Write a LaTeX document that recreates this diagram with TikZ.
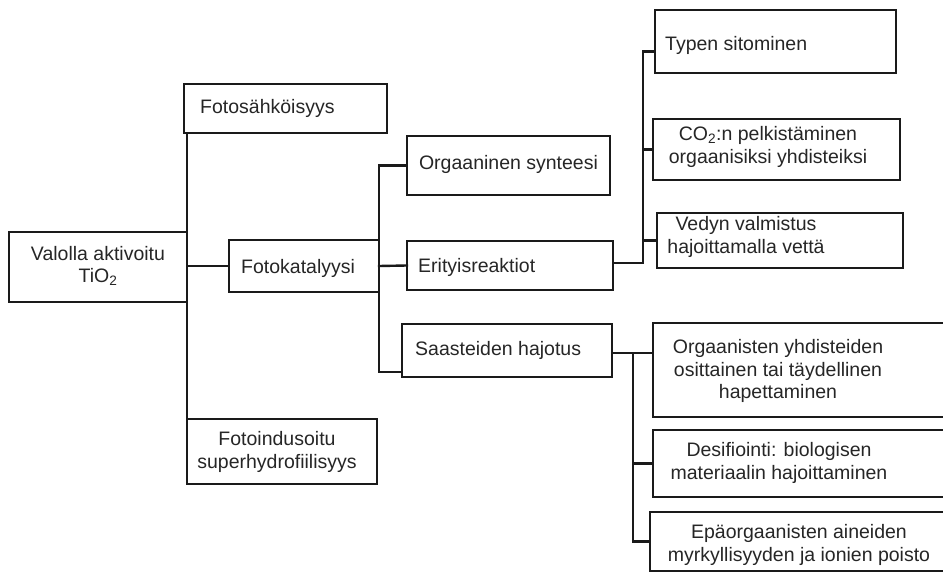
\documentclass[tikz,border=0pt]{standalone}
\usepackage{fontspec}
\setmainfont{Liberation Sans}
\definecolor{ink}{HTML}{1A1A1A}
\definecolor{txtc}{HTML}{262626}
\tikzset{
  box/.style={draw=ink, line width=2.6pt, inner sep=0pt, outer sep=0pt},
  lbl/.style={inner sep=0pt, text=txtc, font=\fontsize{19.5}{22.5}\selectfont, align=center},
  lbll/.style={lbl, anchor=west},
  conn/.style={draw=ink, line width=2.4pt, line cap=rect}
}
\begin{document}
\begin{tikzpicture}[x=1pt,y=-1pt]
\useasboundingbox (0,0) rectangle (943,575);
\clip (0,0) rectangle (943,575);
\fill[white] (0,0) rectangle (943,575);
% boxes
\node[box, minimum width=178pt, minimum height=70pt] (val) at (98,267) {};
\node[box, minimum width=203pt, minimum height=49pt] (fs) at (285.5,108.5) {};
\node[box, minimum width=150pt, minimum height=52pt] (fk) at (304,266) {};
\node[box, minimum width=190pt, minimum height=65pt] (fi) at (282,451.5) {};
\node[box, minimum width=203pt, minimum height=59pt] (org) at (508.5,165.5) {};
\node[box, minimum width=206pt, minimum height=49pt] (eri) at (510,265.5) {};
\node[box, minimum width=210pt, minimum height=53pt] (saa) at (507,350.5) {};
\node[box, minimum width=241pt, minimum height=63pt] (typ) at (775.5,41.5) {};
\node[box, minimum width=247pt, minimum height=61pt] (co2) at (776.5,149.5) {};
\node[box, minimum width=246pt, minimum height=55pt] (ved) at (780,240.5) {};
\node[box, minimum width=312pt, minimum height=94pt] (oy) at (809,370) {};
\node[box, minimum width=312pt, minimum height=67pt] (des) at (809,463.5) {};
\node[box, minimum width=315pt, minimum height=59pt] (epa) at (807.5,541.5) {};
% texts
\node[lbl] (valt) at (98,266) {Valolla aktivoitu\\TiO\textsubscript{2}};
\node[lbll] (fst) at (200,108.5) {Fotosähköisyys};
\node[lbll] (fkt) at (241,268) {Fotokatalyysi};
\node[lbl] (fit) at (277,452) {Fotoindusoitu\\superhydrofiilisyys};
\node[lbl] (orgt) at (508.5,164) {Orgaaninen synteesi};
\node[lbll] (erit) at (418,267) {Erityisreaktiot};
\node[lbll] (saat) at (415,350) {Saasteiden hajotus};
\node[lbll] (typt) at (665,45) {Typen sitominen};
\node[lbl] (co2t) at (768,147) {CO\textsubscript{2}:n pelkistäminen\\orgaanisiksi yhdisteiksi};
\node[lbl] (vedt) at (746,237) {Vedyn valmistus\\hajoittamalla vettä};
\node[lbl] (oyt) at (778,371) {Orgaanisten yhdisteiden\\osittainen tai täydellinen\\hapettaminen};
\node[lbl] (dest) at (779,463) {Desifiointi: biologisen\\materiaalin hajoittaminen};
\node[lbl] (epat) at (799,545) {Epäorgaanisten aineiden\\myrkyllisyyden ja ionien poisto};
% connectors level 1
\draw[conn] (val.north east) -- (val.north east |- fs.south);
\draw[conn] (val.south east) -- (val.south east |- fi.north);
\draw[conn] (val.east |- fk.west) -- (fk.west);
% connectors level 2
\draw[conn] (fk.north east) |- (org.west);
\draw[conn] (fk.east) -- (eri.west);
\draw[conn] (fk.south east) |- ([yshift=5pt]saa.south west);
% connectors level 3 (Erityisreaktiot)
\coordinate (ej) at (643,263);
\draw[conn] (eri.east |- ej) -- (ej) |- ([yshift=-10pt]typ.west);
\draw[conn] (ej |- co2.west) -- (co2.west);
\draw[conn] (ej |- ved.west) -- (ved.west);
% connectors level 3 (Saasteiden)
\coordinate (sj) at (633,353);
\draw[conn] (saa.east |- sj) -- (oy.west |- sj);
\draw[conn] (sj) |- (epa.west);
\draw[conn] (sj |- des.west) -- (des.west);
\end{tikzpicture}
\end{document}
